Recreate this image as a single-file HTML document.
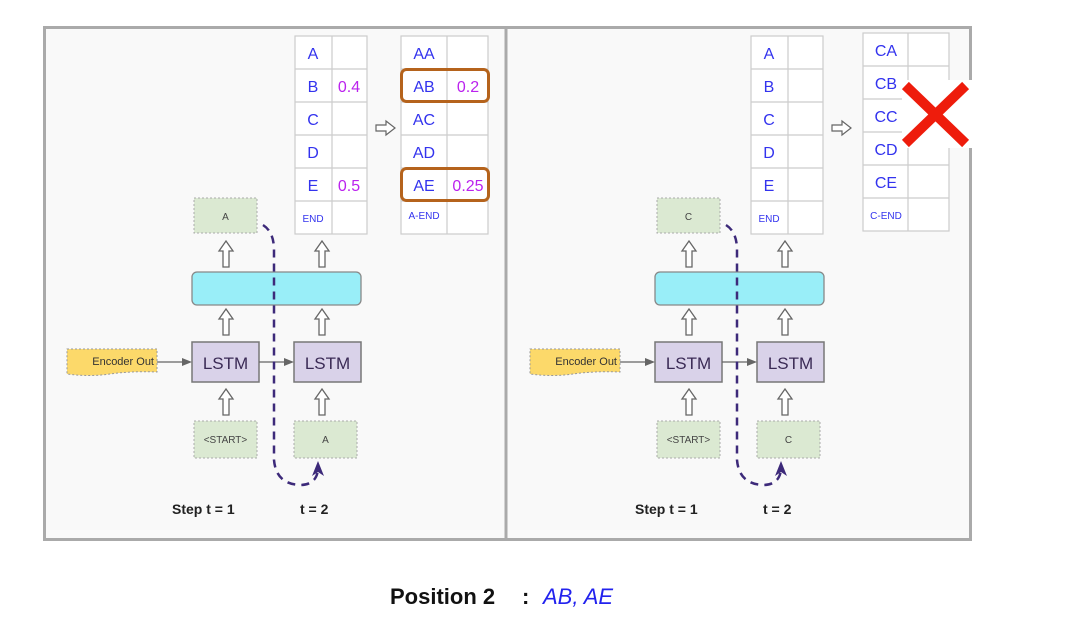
<!DOCTYPE html>
<html><head><meta charset="utf-8"><style>
html,body{margin:0;padding:0;background:#fff;width:1080px;height:621px;overflow:hidden}
svg{display:block}
text{font-family:"Liberation Sans",Arial,sans-serif}
</style></head><body>
<svg width="1080" height="621" viewBox="0 0 1080 621" xmlns="http://www.w3.org/2000/svg">
<defs>
<g id="up"><polygon points="0,0 7,10 3,10 3,26 -3,26 -3,10 -7,10" fill="#fff" stroke="#666" stroke-width="1.3"/></g>
<g id="panel">
  <rect x="194" y="198" width="63" height="35" fill="#dbe9d2" stroke="#aaa" stroke-dasharray="2,2"/>
  <use href="#up" x="226" y="241"/>
  <use href="#up" x="322" y="241"/>
  <rect x="192" y="272" width="169" height="33" rx="5" fill="#99eef8" stroke="#888" stroke-width="1.3"/>
  <use href="#up" x="226" y="309"/>
  <use href="#up" x="322" y="309"/>
  <rect x="192" y="342" width="67" height="40" fill="#d9d2e9" stroke="#777" stroke-width="1.5"/>
  <rect x="294" y="342" width="67" height="40" fill="#d9d2e9" stroke="#777" stroke-width="1.5"/>
  <text x="225.5" y="369" font-size="17" text-anchor="middle" fill="#3a2a55">LSTM</text>
  <text x="327.5" y="369" font-size="17" text-anchor="middle" fill="#3a2a55">LSTM</text>
  <path d="M67,349 L157,349 L157,372 Q130,371 110,374 Q90,377 67,374 Z" fill="#fcd96a" stroke="#999" stroke-dasharray="2,2"/>
  <text x="154" y="365" font-size="11" text-anchor="end" fill="#333">Encoder Out</text>
  <line x1="157" y1="362" x2="183" y2="362" stroke="#666" stroke-width="1.3"/>
  <polygon points="192,362 182,358 182,366" fill="#666"/>
  <line x1="259" y1="362" x2="285" y2="362" stroke="#666" stroke-width="1.3"/>
  <polygon points="294,362 284,358 284,366" fill="#666"/>
  <use href="#up" x="226" y="389"/>
  <use href="#up" x="322" y="389"/>
  <rect x="194" y="421" width="63" height="37" fill="#dbe9d2" stroke="#aaa" stroke-dasharray="2,2"/>
  <rect x="294" y="421" width="63" height="37" fill="#dbe9d2" stroke="#aaa" stroke-dasharray="2,2"/>
  <text x="225.5" y="443" font-size="10" text-anchor="middle" fill="#444">&lt;START&gt;</text>
  <path d="M263,225 Q274,232 274,250 L274,460 Q276,484 300,485 Q316,485 318,470" fill="none" stroke="#3d2a7a" stroke-width="2.5" stroke-dasharray="8,6"/>
  <polygon points="318,461 312,476 318,472 324,476" fill="#3d2a7a"/>
  <text x="172" y="514" font-size="14" font-weight="bold" fill="#222">Step  t = 1</text>
  <text x="300" y="514" font-size="14" font-weight="bold" fill="#222">t = 2</text>
</g>
<g id="tbl">
  <g stroke="#ccc" stroke-width="1.2" fill="#fff">
    <rect x="295" y="36" width="72" height="198"/>
    <line x1="332" y1="36" x2="332" y2="234"/>
    <line x1="295" y1="69" x2="367" y2="69"/><line x1="295" y1="102" x2="367" y2="102"/>
    <line x1="295" y1="135" x2="367" y2="135"/><line x1="295" y1="168" x2="367" y2="168"/>
    <line x1="295" y1="201" x2="367" y2="201"/>
  </g>
  <g font-size="16" fill="#3333ee" text-anchor="middle">
    <text x="313" y="59">A</text><text x="313" y="92">B</text><text x="313" y="125">C</text>
    <text x="313" y="158">D</text><text x="313" y="191">E</text>
    <text x="313" y="222" font-size="10">END</text>
  </g>
  <polygon points="376,125 386,125 386,121 395,128 386,135 386,131 376,131" fill="#fff" stroke="#666" stroke-width="1.2"/>
</g>
</defs>
<rect x="44.5" y="27.5" width="926" height="512" fill="#f9f9f9" stroke="#aaa" stroke-width="3"/>
<line x1="506" y1="28" x2="506" y2="539" stroke="#aaa" stroke-width="3"/>

<use href="#panel"/>
<use href="#panel" x="463"/>
<use href="#tbl"/>
<use href="#tbl" x="456"/>

<text x="225.5" y="220" font-size="10" text-anchor="middle" fill="#444">A</text>
<text x="325.5" y="443" font-size="10" text-anchor="middle" fill="#444">A</text>
<g font-size="16" fill="#bb22ee" text-anchor="middle">
  <text x="349" y="92">0.4</text><text x="349" y="191">0.5</text>
</g>
<g stroke="#ccc" stroke-width="1.2" fill="#fff">
  <rect x="401" y="36" width="87" height="198"/>
  <line x1="447" y1="36" x2="447" y2="234"/>
  <line x1="401" y1="69" x2="488" y2="69"/><line x1="401" y1="102" x2="488" y2="102"/>
  <line x1="401" y1="135" x2="488" y2="135"/><line x1="401" y1="168" x2="488" y2="168"/>
  <line x1="401" y1="201" x2="488" y2="201"/>
</g>
<g font-size="16" fill="#3333ee" text-anchor="middle">
  <text x="424" y="59">AA</text><text x="424" y="92">AB</text><text x="424" y="125">AC</text>
  <text x="424" y="158">AD</text><text x="424" y="191">AE</text>
  <text x="424" y="219" font-size="10">A-END</text>
</g>
<g font-size="16" fill="#bb22ee" text-anchor="middle">
  <text x="468" y="92">0.2</text><text x="468" y="191">0.25</text>
</g>
<rect x="401.5" y="69.5" width="87" height="32" rx="5" fill="none" stroke="#b5631c" stroke-width="3"/>
<rect x="401.5" y="168.5" width="87" height="32" rx="5" fill="none" stroke="#b5631c" stroke-width="3"/>

<text x="688.5" y="220" font-size="10" text-anchor="middle" fill="#444">C</text>
<text x="788.5" y="443" font-size="10" text-anchor="middle" fill="#444">C</text>
<g stroke="#ccc" stroke-width="1.2" fill="#fff">
  <rect x="863" y="33" width="86" height="198"/>
  <line x1="908" y1="33" x2="908" y2="231"/>
  <line x1="863" y1="66" x2="949" y2="66"/><line x1="863" y1="99" x2="949" y2="99"/>
  <line x1="863" y1="132" x2="949" y2="132"/><line x1="863" y1="165" x2="949" y2="165"/>
  <line x1="863" y1="198" x2="949" y2="198"/>
</g>
<g font-size="16" fill="#3333ee" text-anchor="middle">
  <text x="886" y="56">CA</text><text x="886" y="89">CB</text><text x="886" y="122">CC</text>
  <text x="886" y="155">CD</text><text x="886" y="188">CE</text>
  <text x="886" y="219" font-size="10">C-END</text>
</g>
<rect x="902" y="80" width="70" height="68" fill="#fff"/>
<g stroke="#ee1c0c" stroke-width="10" stroke-linecap="square">
  <line x1="909" y1="89" x2="962" y2="140"/>
  <line x1="962" y1="89" x2="909" y2="140"/>
</g>

<text x="390" y="604" font-size="22" font-weight="bold" fill="#111">Position 2</text>
<text x="522" y="604" font-size="22" font-weight="bold" fill="#111">:</text>
<text x="543" y="604" font-size="22" font-style="italic" fill="#2222ee">AB, AE</text>
</svg>
</body></html>
